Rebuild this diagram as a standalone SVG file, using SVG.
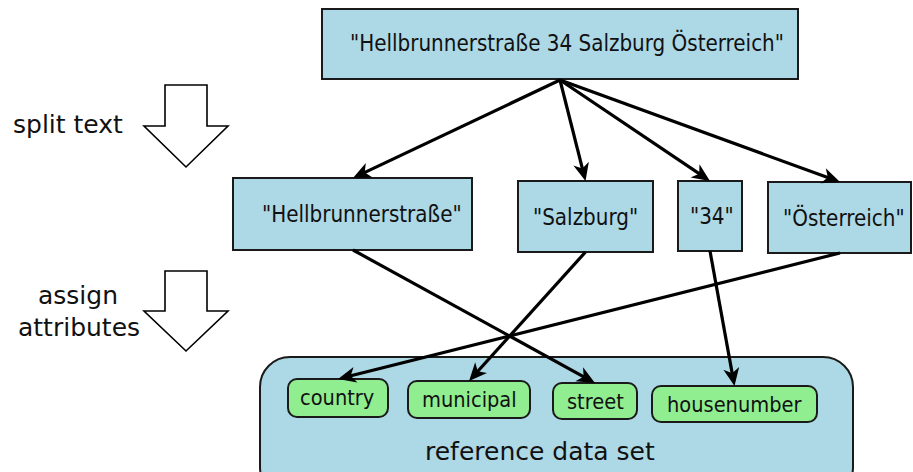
<svg xmlns="http://www.w3.org/2000/svg" width="913" height="472" viewBox="0 0 913 472">
<style>
text{font-family:"DejaVu Sans","Liberation Sans",sans-serif;fill:#111}
.c{font-family:"DejaVu Sans Condensed","DejaVu Sans","Liberation Sans Narrow",sans-serif;font-stretch:condensed}
.t22{font-size:22.2px}
.t21{font-size:21.6px}
.t25{font-size:25px}
.blue{fill:#add8e6;stroke:#1a1a1a;stroke-width:2}
.green{fill:#90ee90;stroke:#1a1a1a;stroke-width:2}
.conn{fill:none;stroke:#000;stroke-width:3.2;marker-end:url(#ah)}
.hollow{fill:#fff;stroke:#000;stroke-width:1.6;stroke-linejoin:miter}
</style>
<defs>
<marker id="ah" markerUnits="userSpaceOnUse" viewBox="-22 -10 24 20" markerWidth="24" markerHeight="20" refX="-5" refY="0" orient="auto" overflow="visible">
<path d="M0,0 L-18,-8 L-13,0 L-18,8 Z" fill="#000"/>
</marker>
</defs>
<g id="refset">
<rect x="260" y="357" width="593" height="140" rx="30" ry="30" class="blue"/>
<text x="425" y="460" class="t25">reference data set</text>
</g>
<g id="step-split">
<polygon class="hollow" points="165,85 207,85 207,126 228,126 186,167 144,126 165,126"/>
<text x="13" y="133" class="t25">split text</text>
</g>
<g id="step-assign">
<polygon class="hollow" points="165,271 207,271 207,311 228,311 186,351 144,311 165,311"/>
<text x="38" y="304" class="t25">assign</text>
<text x="18" y="336" class="t25">attributes</text>
</g>
<g id="full">
<rect x="322" y="9" width="476" height="70" class="blue"/>
<text x="350" y="51" class="c t22">"Hellbrunnerstraße 34 Salzburg Österreich"</text>
</g>
<g id="street-str">
<rect x="233" y="178" width="239" height="72" class="blue"/>
<text x="262" y="222" class="c t22">"Hellbrunnerstraße"</text>
</g>
<g id="city-str">
<rect x="518" y="181" width="135" height="71" class="blue"/>
<text x="533" y="225" class="c t22">"Salzburg"</text>
</g>
<g id="num-str">
<rect x="678" y="181" width="64" height="70" class="blue"/>
<text x="690" y="224" class="c t22">"34"</text>
</g>
<g id="country-str">
<rect x="768" y="182" width="143" height="71" class="blue"/>
<text x="783" y="226" class="c t22">"Österreich"</text>
</g>
<g id="country">
<rect x="288" y="379" width="100" height="38" rx="9" class="green"/>
<text x="300" y="405" class="c t21">country</text>
</g>
<g id="municipal">
<rect x="408" y="381" width="122" height="37" rx="9" class="green"/>
<text x="422" y="407" class="c t21">municipal</text>
</g>
<g id="street">
<rect x="553" y="383" width="84" height="36" rx="9" class="green"/>
<text x="567" y="409" class="c t21">street</text>
</g>
<g id="housenumber">
<rect x="652" y="386" width="165" height="36" rx="9" class="green"/>
<text x="667" y="412" class="c t21">housenumber</text>
</g>
<g id="connectors">
<line class="conn" x1="560" y1="80" x2="357.5" y2="175.9"/>
<line class="conn" x1="560" y1="80" x2="584.3" y2="176.2"/>
<line class="conn" x1="560" y1="80" x2="705.8" y2="178.2"/>
<line class="conn" x1="560" y1="80" x2="835.3" y2="180.3"/>
<line class="conn" x1="353" y1="250" x2="590.6" y2="380.6"/>
<line class="conn" x1="585.5" y1="252" x2="472.4" y2="377.3"/>
<line class="conn" x1="710" y1="251" x2="733.6" y2="381.1"/>
<line class="conn" x1="840" y1="253" x2="342.9" y2="377.8"/>
</g>
</svg>
